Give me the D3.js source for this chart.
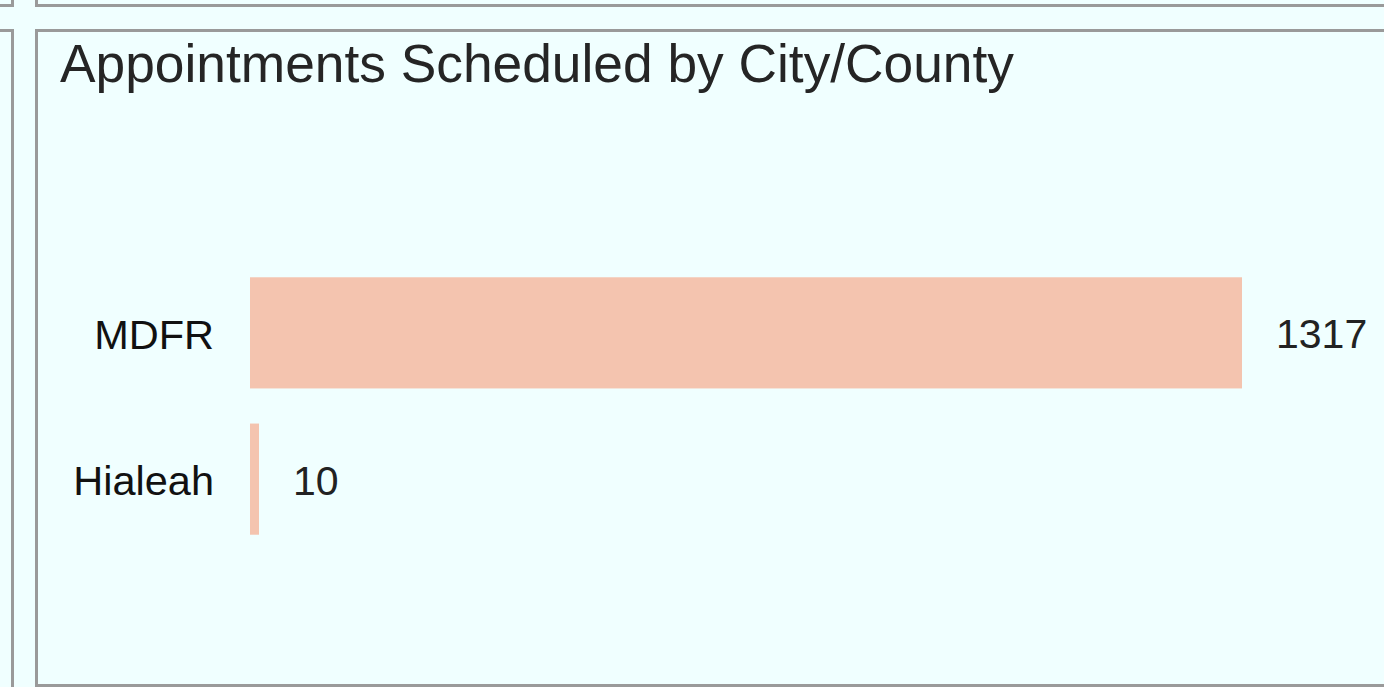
<!DOCTYPE html>
<html><head><meta charset="utf-8">
<script src="https://cdn.jsdelivr.net/npm/d3@7"></script>
<style>
html,body{margin:0;padding:0;background:#f0ffff;overflow:hidden;}
svg{display:block;}
</style></head>
<body>
<script>
const categories = ["MDFR", "Hialeah"];
const values = [1317, 10];
const title = "Appointments Scheduled by City/County";

const W = 1384, H = 687;
const svg = d3.select("body").append("svg").attr("width", W).attr("height", H);
svg.append("rect").attr("width", W).attr("height", H).attr("fill", "#f0ffff");

const border = "#9a9a9a";
// neighbouring panels (partially visible)
svg.append("rect").attr("x", -20).attr("y", -20).attr("width", 32.5).attr("height", 25.5)
  .attr("fill", "none").attr("stroke", border).attr("stroke-width", 3);
svg.append("rect").attr("x", 36.5).attr("y", -20).attr("width", 1400).attr("height", 25.5)
  .attr("fill", "none").attr("stroke", border).attr("stroke-width", 3);
svg.append("rect").attr("x", -20).attr("y", 30.5).attr("width", 32.5).attr("height", 700)
  .attr("fill", "none").attr("stroke", border).attr("stroke-width", 3);
// main panel
svg.append("rect").attr("x", 36.5).attr("y", 30.5).attr("width", 1400).attr("height", 655)
  .attr("fill", "#f0ffff").attr("stroke", border).attr("stroke-width", 3);

svg.append("text").attr("x", 60).attr("y", 82)
  .attr("font-family", "Liberation Sans, Arial, sans-serif").attr("font-size", 53.3)
  .attr("fill", "#252525").text(title);

const x = d3.scaleLinear().domain([0, 1317]).range([250, 1242]);
const y = d3.scaleBand().domain(categories).range([131, 681]).paddingInner(0.24).paddingOuter(1);

const data = categories.map((c, i) => ({c, v: values[i]}));

svg.selectAll("rect.bar").data(data).join("rect").attr("class", "bar")
  .attr("x", x(0)).attr("y", d => y(d.c))
  .attr("width", d => Math.max(x(d.v) - x(0), 9)).attr("height", y.bandwidth())
  .attr("fill", "#f4c4af");

const yAxis = d3.axisLeft(y).tickSize(0).tickPadding(36);
const ga = svg.append("g").attr("transform", `translate(${x(0)},0)`).call(yAxis);
ga.select(".domain").remove();
ga.selectAll("text").attr("font-family", "Liberation Sans, Arial, sans-serif")
  .attr("font-size", 41.5).attr("fill", "#111").attr("dy", "0.38em");

svg.selectAll("text.val").data(data).join("text").attr("class", "val")
  .attr("x", d => Math.max(x(d.v), x(0) + 9) + 34)
  .attr("y", d => y(d.c) + y.bandwidth() / 2).attr("dy", "0.38em")
  .attr("font-family", "Liberation Sans, Arial, sans-serif").attr("font-size", 41)
  .attr("fill", "#222").text(d => d.v);
</script>
</body></html>
